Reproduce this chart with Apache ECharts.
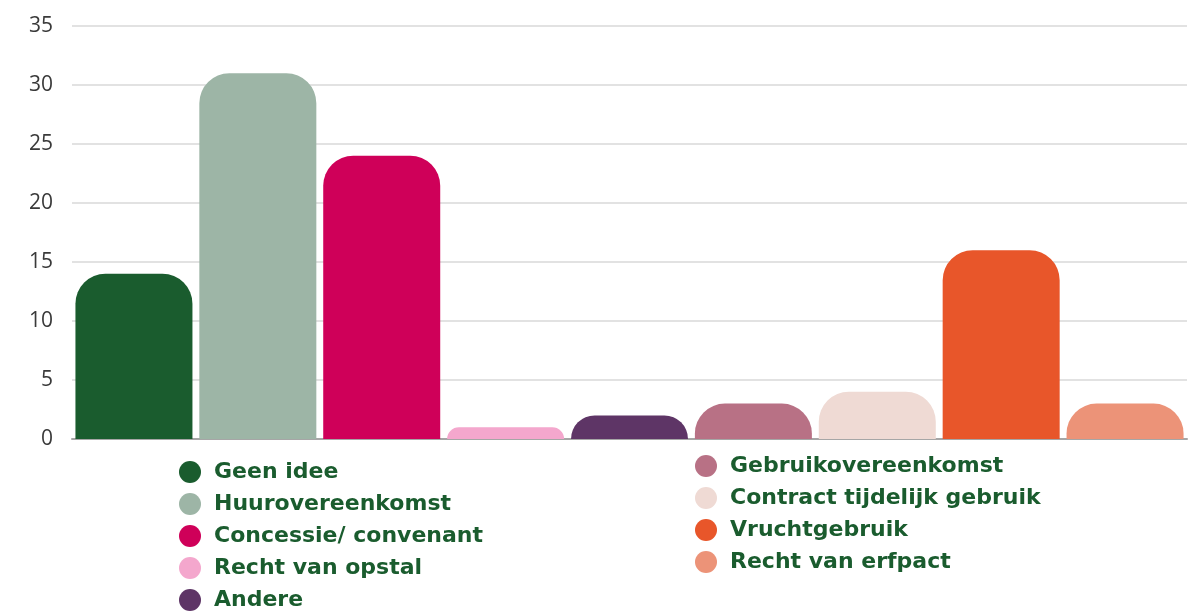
<!DOCTYPE html>
<html>
<head>
<meta charset="utf-8">
<script src="https://cdn.jsdelivr.net/npm/echarts@6/dist/echarts.min.js"></script>
<style>
html,body{margin:0;padding:0;background:#fff;}
#chart{width:1201px;height:612px;}
</style>
</head>
<body>
<div id="chart"></div>
<script>
const categories = ["Geen idee","Huurovereenkomst","Concessie/ convenant","Recht van opstal","Andere","Gebruikovereenkomst","Contract tijdelijk gebruik","Vruchtgebruik","Recht van erfpact"];
const values = [14, 31, 24, 1, 2, 3, 4, 16, 3];
const colors = ["#1a5c2e","#9db5a6","#cf0059","#f4a7cd","#5e3566","#b87185","#efdad4","#e8562a","#ec9378"];
const yTicks = [0, 5, 10, 15, 20, 25, 30, 35];

const series = categories.map((name, i) => ({
  name: name,
  type: 'bar',
  stack: 'all',
  barWidth: 117,
  itemStyle: { color: colors[i], borderRadius: [30, 30, 0, 0] },
  data: values.map((v, j) => j === i ? v : '-')
}));

const legendText = { color: '#1a5c2e', fontFamily: 'DejaVu Sans', fontWeight: 'bold', fontSize: 22, lineHeight: 22, padding: [0, 0, 0, 8] };

const chart = echarts.init(document.getElementById('chart'));
chart.setOption({
  animation: false,
  grid: { left: 72, right: 14, top: 26, bottom: 173, containLabel: false },
  xAxis: {
    type: 'category',
    data: categories,
    axisLine: { lineStyle: { color: '#a6a6a6', width: 2 } },
    axisTick: { show: false },
    axisLabel: { show: false }
  },
  yAxis: {
    type: 'value',
    min: yTicks[0],
    max: yTicks[yTicks.length - 1],
    interval: 5,
    axisLabel: { color: '#3a3a3a', fontSize: 21, fontFamily: 'Open Sans', margin: 19 },
    splitLine: { lineStyle: { color: '#d9d9d9', width: 1.5 } },
    axisLine: { show: false },
    axisTick: { show: false }
  },
  legend: [
    {
      data: categories.slice(0, 5),
      orient: 'vertical',
      left: 179, top: 461,
      padding: 0,
      icon: 'circle',
      itemWidth: 22, itemHeight: 22,
      itemGap: 10,
      itemTextGap: 13,
      textStyle: legendText
    },
    {
      data: categories.slice(5),
      orient: 'vertical',
      left: 695, top: 455,
      padding: 0,
      icon: 'circle',
      itemWidth: 22, itemHeight: 22,
      itemGap: 10,
      itemTextGap: 13,
      textStyle: legendText
    }
  ],
  series: series
});
</script>
</body>
</html>
